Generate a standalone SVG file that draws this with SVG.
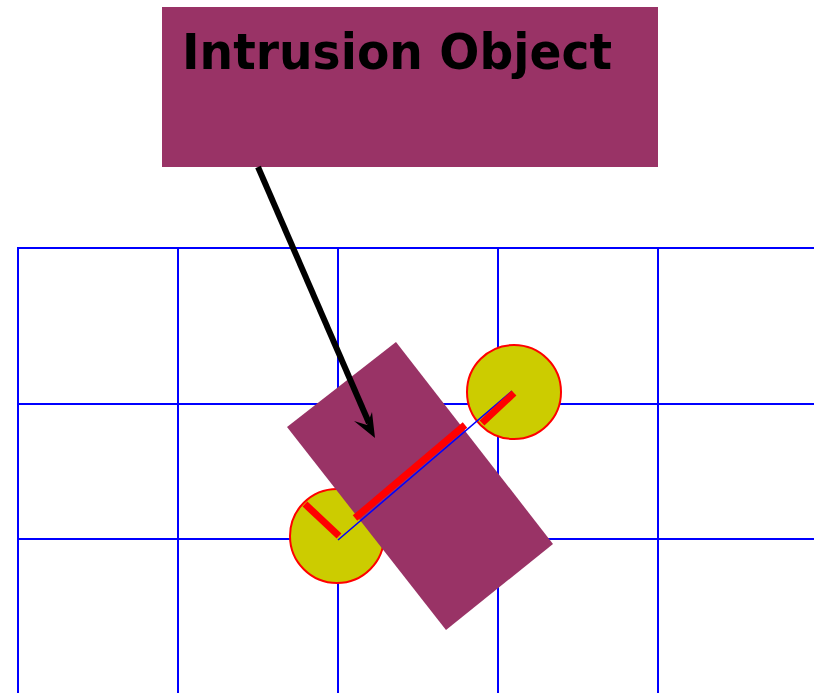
<svg xmlns="http://www.w3.org/2000/svg" width="814" height="693" viewBox="0 0 814 693">
<style>
.grid{stroke:#0000ff;stroke-width:2;fill:none}
.plum{fill:#993366}
.wheel{fill:#cccc00;stroke:#ff0000;stroke-width:2}
.red{stroke:#ff0000;stroke-width:7;stroke-linecap:butt}
.title{font-family:"Comic Sans MS","DejaVu Sans",sans-serif;font-weight:bold;font-size:49px;fill:#000}
</style>
<rect width="814" height="693" fill="#ffffff"/>
<g id="grid">
<path class="grid" d="M18,693V248H814M178,248V693M338,248V693M498,248V693M658,248V693M18,404H814M18,539H814"/>
</g>
<g id="title-box">
<rect class="plum" x="162" y="7" width="496" height="160"/>
<text class="title" x="182" y="69" textLength="430" lengthAdjust="spacingAndGlyphs">Intrusion Object</text>
</g>
<g id="left-wheel">
<circle class="wheel" cx="337" cy="536" r="47"/>
</g>
<g id="right-wheel">
<circle class="wheel" cx="514" cy="392" r="47"/>
</g>
<g id="intrusion-object">
<polygon class="plum" points="396,342 287,427 446,630 553,544"/>
</g>
<g id="axle">
<line x1="338" y1="540" x2="512" y2="391" stroke="#0000ff" stroke-width="1.5"/>
<line class="red" x1="355" y1="518" x2="465" y2="425"/>
<line class="red" x1="305" y1="504" x2="339" y2="536"/>
<line class="red" x1="482" y1="423" x2="514" y2="393"/>
</g>
<g id="connectors">
<line x1="258" y1="167" x2="369" y2="423" stroke="#000" stroke-width="6"/>
<polygon points="375,438 354,421 367,425 372,412" fill="#000"/>
</g>
</svg>
